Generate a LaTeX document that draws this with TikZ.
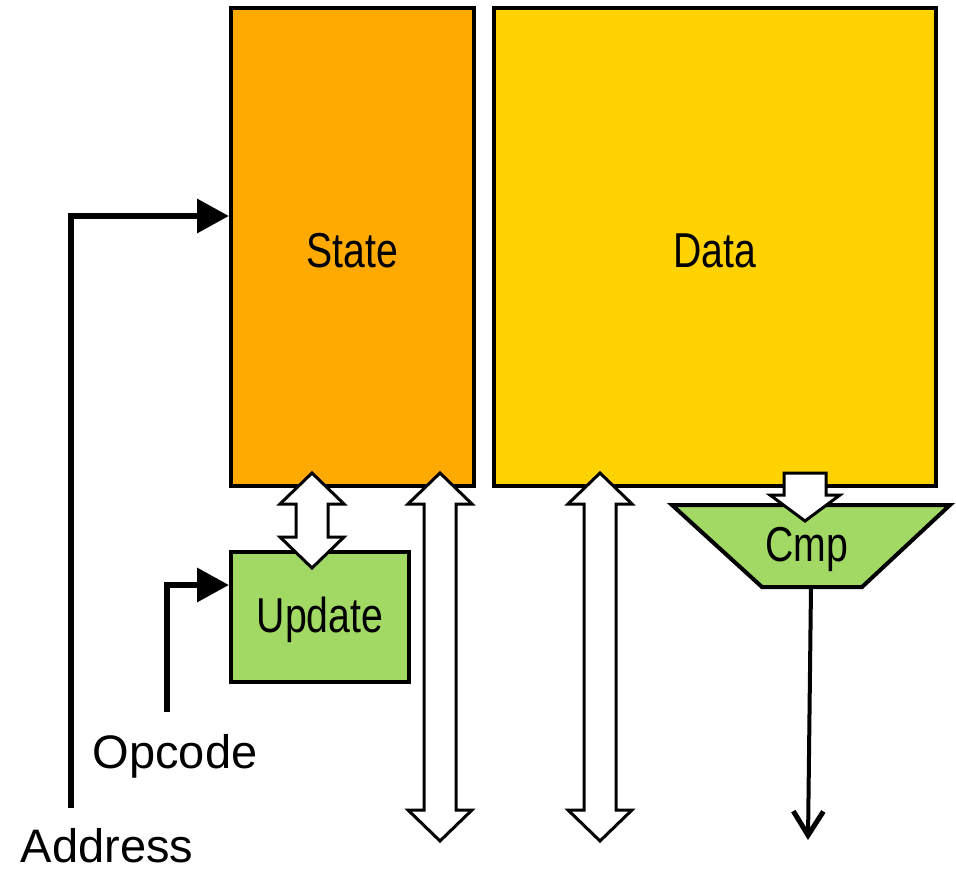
\documentclass[tikz,border=0pt]{standalone}
\usepackage{fontspec}
\setmainfont{Liberation Sans}
\newfontfamily\narrowsans[FakeStretch=0.8]{Liberation Sans}
\usetikzlibrary{arrows.meta}
\definecolor{stateorange}{RGB}{255,170,0}
\definecolor{datayellow}{RGB}{255,210,0}
\definecolor{unitgreen}{RGB}{162,216,100}

\tikzset{
  blocklabel/.style={font=\narrowsans\fontsize{49pt}{58pt}\selectfont},
  block/.style={draw=black, line width=4pt, line join=miter, inner sep=0pt, blocklabel},
  hollowarrow/.style={draw=black, fill=white, line width=3pt, line join=miter},
  signal/.style={line width=6.5pt, line join=miter, -{Triangle[length=32pt,width=33pt]}},
  outwire/.style={line width=4pt, -{Straight Barb[length=24pt,width=30pt,line width=5pt]}},
  caption/.style={inner sep=0pt, font=\fontsize{47pt}{56pt}\selectfont},
  pics/dblarrow/.style={code={
    \draw[hollowarrow] (0,0) -- (32,31) -- (16,31) -- (16,#1-31) -- (32,#1-31)
      -- (0,#1) -- (-32,#1-31) -- (-16,#1-31) -- (-16,31) -- (-32,31) -- cycle;
  }},
}

\begin{document}
\begin{tikzpicture}[x=1pt,y=-1pt]
  \useasboundingbox (0,0) rectangle (956,869);

  % storage arrays
  \node[block, fill=stateorange, minimum width=243pt, minimum height=478pt]
    (state) at (352.5,247) {};
  \node[block, fill=datayellow, minimum width=442pt, minimum height=478pt]
    (data) at (715,247) {};
  \node[blocklabel, inner sep=0pt] (statelabel) at (352.5,251) {State};
  \node[blocklabel, inner sep=0pt] (datalabel) at (715,251) {Data};

  % state update logic
  \node[block, fill=unitgreen, minimum width=178pt, minimum height=130pt]
    (update) at (320,617) {};
  \node[blocklabel, inner sep=0pt] (updatelabel) at (320,620) {Update};

  % comparator
  \draw[line width=4pt, line join=miter, fill=unitgreen]
    (672,505) -- (950,505) -- (862,587) -- (762,587) -- cycle;
  \node[blocklabel, inner sep=0pt] (cmp) at (807,549) {Cmp};

  % wide data paths
  \pic at (312,473) {dblarrow=95};
  \pic at (440,473) {dblarrow=368};
  \pic at (600,473) {dblarrow=368};
  \draw[hollowarrow] (784,473) -- (826,473) -- (826,495) -- (840,495)
    -- (805,521) -- (770,495) -- (784,495) -- cycle;

  % control inputs
  \node[caption] (address) at (107,846) {Address};
  \node[caption] (opcode) at (175,756) {Opcode};
  \coordinate (addrstart) at (71,808);
  \coordinate (opstart) at (167,712);
  \path (state.west) ++(0,-31) coordinate (statein);
  \path (update.west) ++(0,-32) coordinate (updatein);
  \draw[signal] (addrstart) |- (statein);
  \draw[signal] (opstart) |- (updatein);

  % comparison result
  \coordinate (cmpout) at (811,587);
  \coordinate (hitout) at (808,840);
  \draw[outwire] (cmpout) -- (hitout);
\end{tikzpicture}
\end{document}
